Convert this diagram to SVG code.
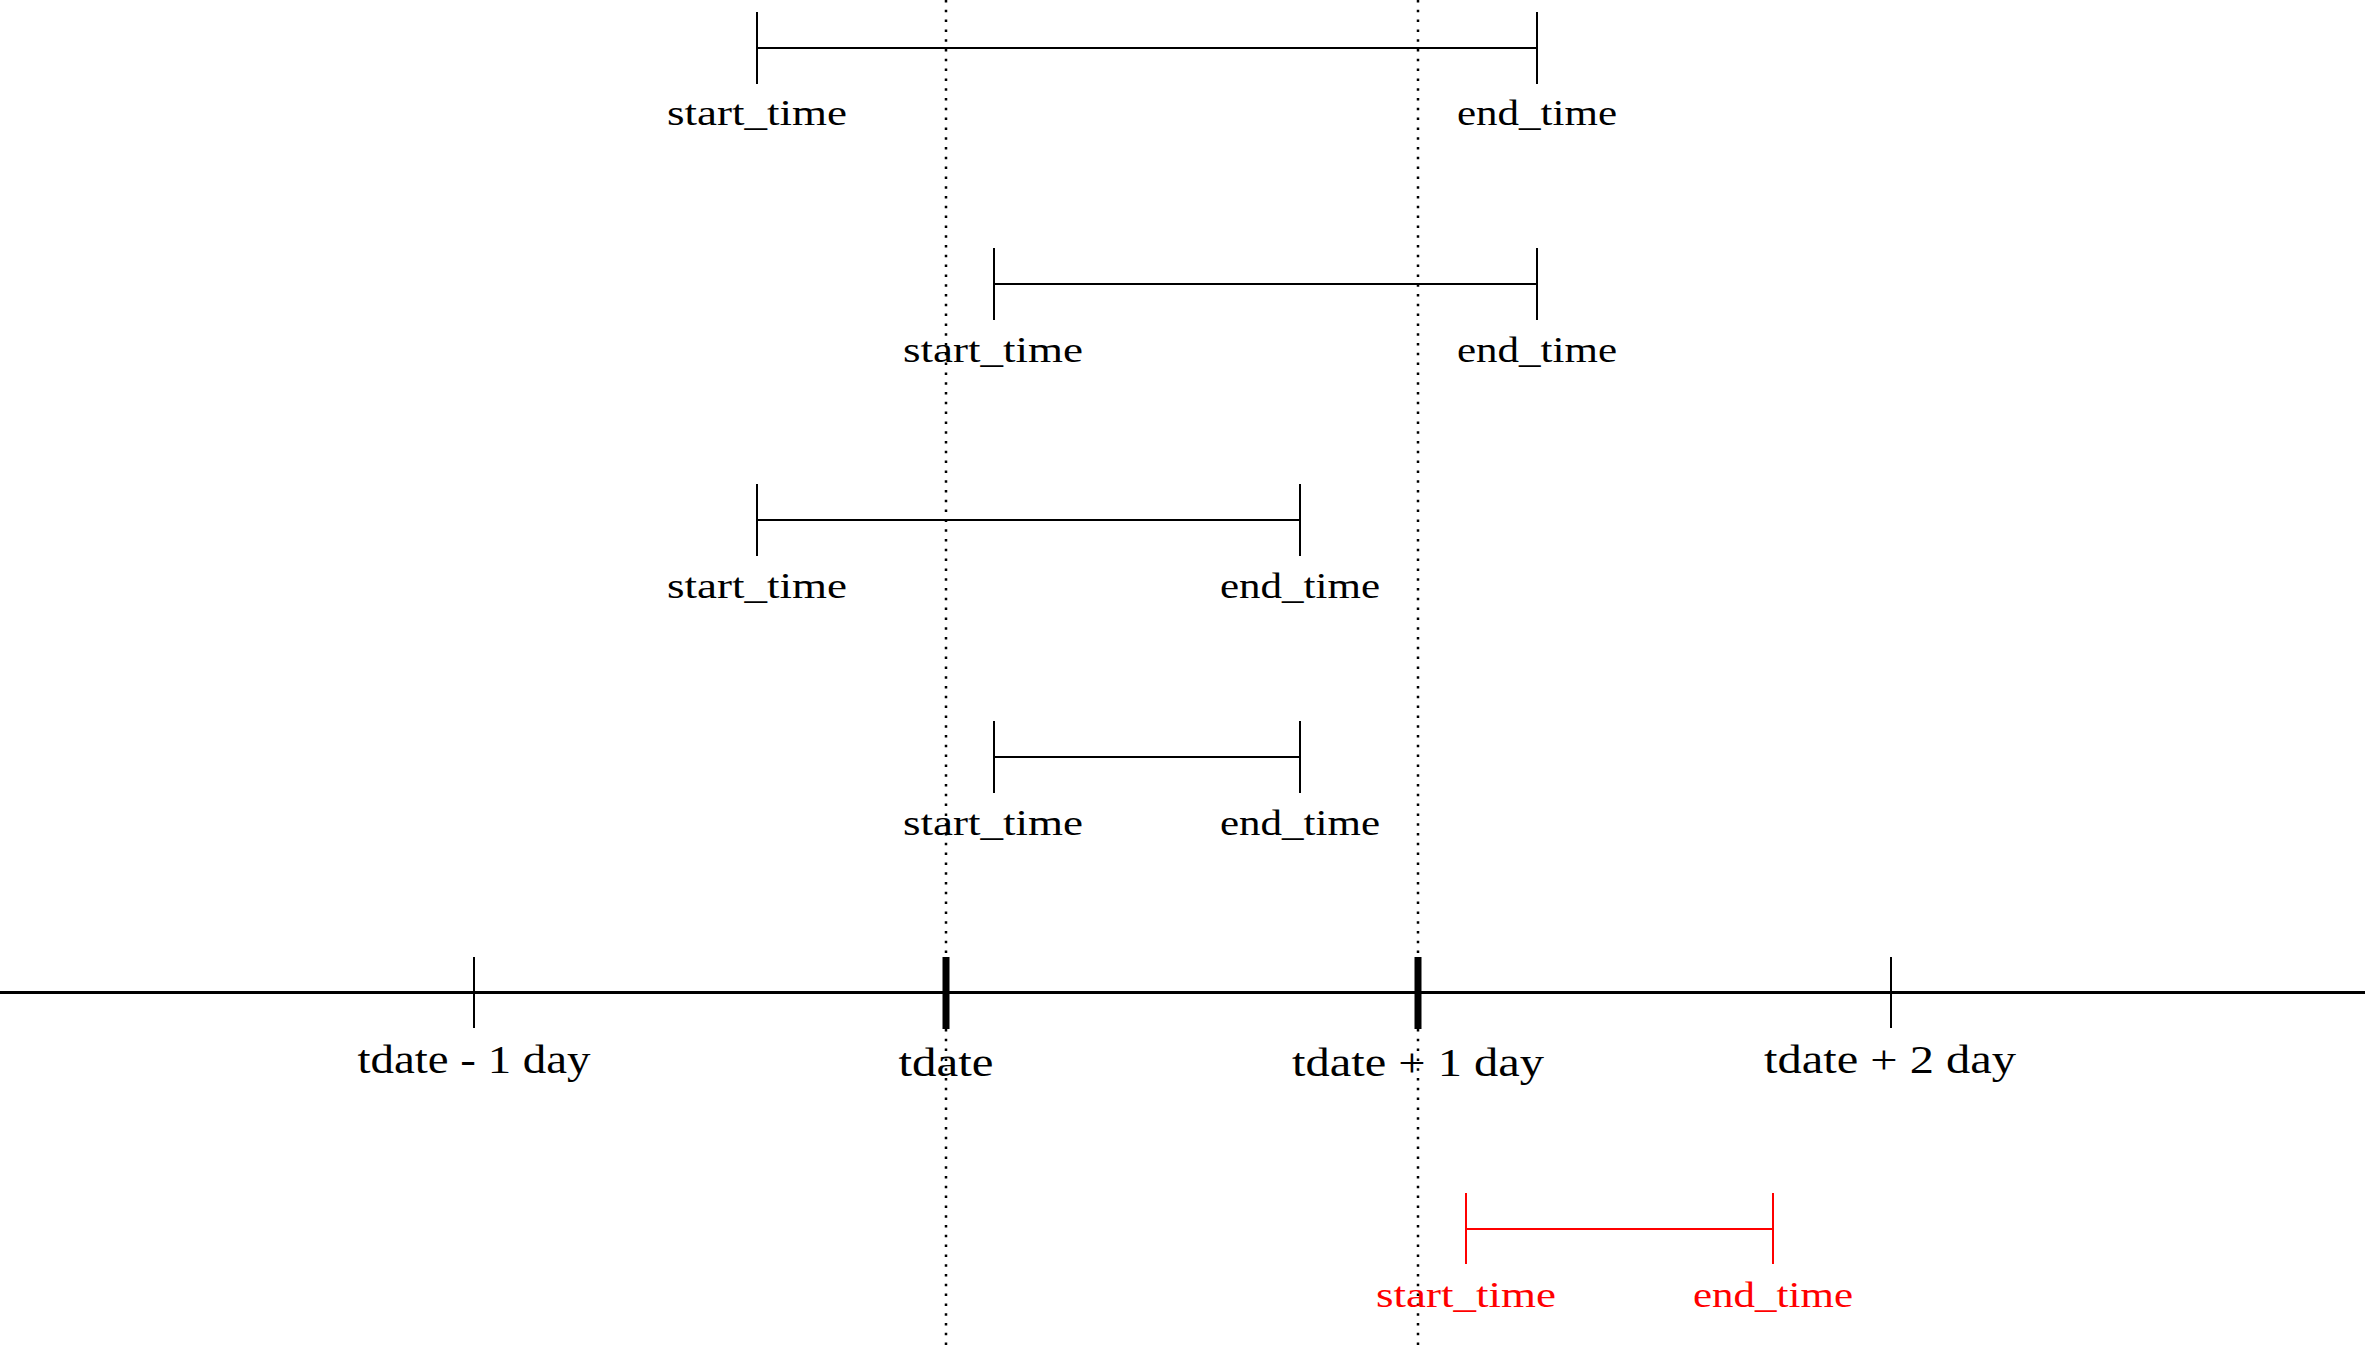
<svg xmlns="http://www.w3.org/2000/svg" width="2365" height="1348" viewBox="0 0 2365 1348">
<style>
.bg{fill:#ffffff}
.dot{stroke:#000;stroke-width:2.5;stroke-dasharray:2.5 7.3;fill:none}
.ln{stroke:#000;stroke-width:2;fill:none}
.red .ln{stroke:#ff0000}
.axis{stroke:#000;stroke-width:3;fill:none}
.thick{stroke:#000;stroke-width:7;fill:none}
text{font-family:"Liberation Serif","Times New Roman",serif;font-size:35px;fill:#000;text-anchor:middle}
.lbl{font-size:40px}
.red text{fill:#ff0000}
</style>
<rect class="bg" x="0" y="0" width="2365" height="1348"/>
<g id="guides">
<line class="dot" x1="946" y1="0" x2="946" y2="1348"/>
<line class="dot" x1="1418" y1="0" x2="1418" y2="1348"/>
</g>
<g id="axis">
<line class="axis" x1="0" y1="992.5" x2="2365" y2="992.5"/>
<line class="ln" x1="474" y1="957" x2="474" y2="1028"/>
<line class="thick" x1="946" y1="957" x2="946" y2="1029"/>
<line class="thick" x1="1418" y1="957" x2="1418" y2="1029"/>
<line class="ln" x1="1891" y1="957" x2="1891" y2="1028"/>
<text class="lbl" x="474" y="1073" textLength="233" lengthAdjust="spacingAndGlyphs">tdate - 1 day</text>
<text class="lbl" x="946" y="1076" textLength="95" lengthAdjust="spacingAndGlyphs">tdate</text>
<text class="lbl" x="1418" y="1076" textLength="252" lengthAdjust="spacingAndGlyphs">tdate + 1 day</text>
<text class="lbl" x="1890" y="1073" textLength="252" lengthAdjust="spacingAndGlyphs">tdate + 2 day</text>
</g>
<g id="interval1">
<line class="ln" x1="757" y1="48" x2="1537" y2="48"/>
<line class="ln" x1="757" y1="12" x2="757" y2="84"/>
<line class="ln" x1="1537" y1="12" x2="1537" y2="84"/>
<text x="757" y="125" textLength="180" lengthAdjust="spacingAndGlyphs">start_time</text>
<text x="1537" y="125" textLength="160" lengthAdjust="spacingAndGlyphs">end_time</text>
</g>
<g id="interval2">
<line class="ln" x1="994" y1="284" x2="1537" y2="284"/>
<line class="ln" x1="994" y1="248" x2="994" y2="320"/>
<line class="ln" x1="1537" y1="248" x2="1537" y2="320"/>
<text x="993" y="362" textLength="180" lengthAdjust="spacingAndGlyphs">start_time</text>
<text x="1537" y="362" textLength="160" lengthAdjust="spacingAndGlyphs">end_time</text>
</g>
<g id="interval3">
<line class="ln" x1="757" y1="520" x2="1300" y2="520"/>
<line class="ln" x1="757" y1="484" x2="757" y2="556"/>
<line class="ln" x1="1300" y1="484" x2="1300" y2="556"/>
<text x="757" y="598" textLength="180" lengthAdjust="spacingAndGlyphs">start_time</text>
<text x="1300" y="598" textLength="160" lengthAdjust="spacingAndGlyphs">end_time</text>
</g>
<g id="interval4">
<line class="ln" x1="994" y1="757" x2="1300" y2="757"/>
<line class="ln" x1="994" y1="721" x2="994" y2="793"/>
<line class="ln" x1="1300" y1="721" x2="1300" y2="793"/>
<text x="993" y="835" textLength="180" lengthAdjust="spacingAndGlyphs">start_time</text>
<text x="1300" y="835" textLength="160" lengthAdjust="spacingAndGlyphs">end_time</text>
</g>
<g id="interval5" class="red">
<line class="ln" x1="1466" y1="1229" x2="1773" y2="1229"/>
<line class="ln" x1="1466" y1="1193" x2="1466" y2="1264"/>
<line class="ln" x1="1773" y1="1193" x2="1773" y2="1264"/>
<text x="1466" y="1307" textLength="180" lengthAdjust="spacingAndGlyphs">start_time</text>
<text x="1773" y="1307" textLength="160" lengthAdjust="spacingAndGlyphs">end_time</text>
</g>
</svg>
